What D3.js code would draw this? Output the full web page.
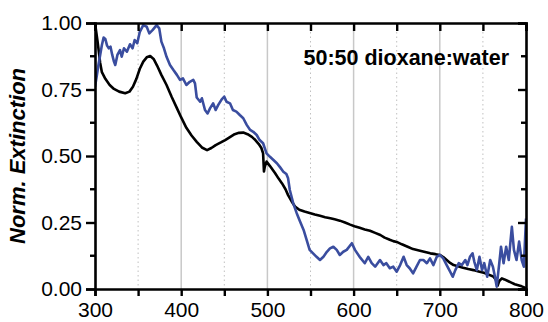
<!DOCTYPE html>
<html>
<head>
<meta charset="utf-8">
<script src="https://cdn.jsdelivr.net/npm/d3@7"></script>
<style>
  body { margin: 0; background: #fff; }
  text { font-family: "Liberation Sans", Arial, sans-serif; }
</style>
</head>
<body>
<div id="chart"></div>
<script>
// black spectrum: wavelength (nm) / normalised extinction
var blackX = [300,303,306,308,312,317,322,328,335,340,344,348,352,356,360,364,368,372,377,383,389,395,400,406,412,418,424,430,435,440,446,451,457,462,467,472,477,482,486,490,493,495,496,497,499,503,509,513,517,521,524,528,532,537,543,549,555,561,567,573,578,584,590,596,601,607,613,619,625,631,636,642,646,650,656,662,669,677,683,689,695,700,704,708,712,716,722,727,733,739,745,751,756,762,765,767,769,772,775,779,783,787,791,795,798,800];
var blackY = [1.00,0.93,0.85,0.815,0.79,0.767,0.752,0.742,0.736,0.742,0.76,0.79,0.828,0.855,0.871,0.876,0.865,0.84,0.805,0.767,0.722,0.68,0.645,0.606,0.577,0.553,0.532,0.522,0.53,0.541,0.551,0.56,0.572,0.582,0.587,0.588,0.582,0.572,0.56,0.545,0.53,0.51,0.442,0.46,0.479,0.462,0.435,0.415,0.397,0.375,0.353,0.33,0.31,0.298,0.291,0.286,0.28,0.275,0.27,0.266,0.262,0.257,0.25,0.242,0.236,0.23,0.224,0.219,0.211,0.203,0.193,0.185,0.18,0.177,0.168,0.16,0.15,0.144,0.139,0.134,0.131,0.128,0.12,0.109,0.098,0.09,0.085,0.08,0.075,0.071,0.066,0.061,0.055,0.047,0.035,0.012,0.03,0.04,0.036,0.03,0.024,0.018,0.014,0.01,0.006,0.002];

// blue spectrum
var blueX = [300,302,304,306,308,310,312,314,316,318,320,322,323.5,326,329,331,333.6,337,340.6,343.6,346,349,352,356,360,363,367,371.5,374.5,377,380,383,387,391,395,398.6,402,406,410,414,416,418,422,424,427.6,430.6,433.4,437,440,443,447,450,452.6,456.6,460,464,468,472,476,480,483.6,487.6,491,495,499,503,507,511,514.6,518.5,522,524,526,530,534,538,542,545.6,549,553,557,561,565,569,572.6,576.5,580.4,584,588,592,598,601.6,607,613,617,621,625,630.6,634.6,638,642,646,650,654,658,661.6,665,669,673,677,681,685,688.6,692.6,696.5,700,704,708,712,715,718,722,725.6,729.6,732,735,738,740,743,746,749,751.6,755,758.5,761.6,764,766,769,771,774,777,780,783.6,786,789,792,795,797.5,800];
var blueY = [0.76,0.80,0.842,0.88,0.917,0.945,0.94,0.915,0.905,0.911,0.88,0.855,0.842,0.88,0.898,0.873,0.905,0.892,0.92,0.905,0.936,0.924,0.967,0.992,0.986,0.961,0.974,0.992,0.98,0.93,0.905,0.873,0.842,0.823,0.805,0.786,0.792,0.767,0.779,0.786,0.773,0.72,0.704,0.717,0.673,0.66,0.679,0.698,0.673,0.692,0.713,0.723,0.704,0.698,0.673,0.667,0.654,0.642,0.617,0.598,0.591,0.579,0.56,0.548,0.51,0.497,0.485,0.473,0.458,0.441,0.432,0.416,0.372,0.322,0.285,0.253,0.222,0.184,0.147,0.134,0.121,0.109,0.121,0.14,0.153,0.159,0.147,0.128,0.14,0.147,0.172,0.147,0.121,0.097,0.121,0.097,0.084,0.109,0.09,0.097,0.078,0.084,0.065,0.09,0.121,0.09,0.078,0.059,0.084,0.109,0.109,0.097,0.115,0.09,0.121,0.128,0.115,0.09,0.065,0.046,0.071,0.097,0.09,0.109,0.09,0.121,0.134,0.103,0.071,0.121,0.071,0.097,0.046,0.109,0.084,0.046,0.009,0.097,0.159,0.097,0.159,0.109,0.234,0.147,0.109,0.178,0.109,0.084,0.265];

var xTicks = [300,400,500,600,700,800];
var xMinor = [350,450,550,650,750];
var yTicks = [0,0.25,0.5,0.75,1];
var yMinor = [0.125,0.375,0.625,0.875];
var label = "50:50 dioxane:water";
var yTitle = "Norm. Extinction";

var W = 548, H = 322;
var margin = {top: 23, right: 22, bottom: 33, left: 95};
var width = W - margin.left - margin.right,
    height = H - margin.top - margin.bottom;

var x = d3.scaleLinear().domain([300, 800]).range([0, width]);
var y = d3.scaleLinear().domain([0, 1]).range([height, 0]);

var svg = d3.select("#chart").append("svg")
    .attr("width", W).attr("height", H)
  .append("g")
    .attr("transform", "translate(" + margin.left + "," + margin.top + ")");

svg.append("defs").append("clipPath").attr("id", "clip")
  .append("rect").attr("width", width).attr("height", height);

// grid lines
svg.selectAll(".gmaj").data(xTicks.slice(1, -1)).enter().append("line")
    .attr("x1", x).attr("x2", x).attr("y1", 0).attr("y2", height)
    .attr("stroke", "#c8c8c8").attr("stroke-width", 1.5);
svg.selectAll(".gmin").data(xMinor).enter().append("line")
    .attr("x1", x).attr("x2", x).attr("y1", 0).attr("y2", height)
    .attr("stroke", "#c0c0c0").attr("stroke-width", 1).attr("stroke-dasharray", "1.5,3");

var line = d3.line()
    .x(function(d) { return x(d[0]); })
    .y(function(d) { return y(d[1]); });

var plot = svg.append("g").attr("clip-path", "url(#clip)");
plot.append("path")
    .datum(d3.zip(blackX, blackY))
    .attr("fill", "none").attr("stroke", "#000").attr("stroke-width", 2.6)
    .attr("stroke-linejoin", "round").attr("d", line);
plot.append("path")
    .datum(d3.zip(blueX, blueY))
    .attr("fill", "none").attr("stroke", "#3a4d9f").attr("stroke-width", 2.6)
    .attr("stroke-linejoin", "round").attr("d", line);

// axes
var fmt = d3.format(".2f");
var axBottom = svg.append("g").attr("transform", "translate(0," + height + ")")
    .call(d3.axisBottom(x).tickValues(d3.range(300, 801, 50)).tickSize(7).tickPadding(6)
        .tickFormat(function(d) { return d % 100 === 0 ? d : ""; }));
var axLeft = svg.append("g")
    .call(d3.axisLeft(y).tickValues(yTicks).tickSize(9).tickPadding(4).tickFormat(fmt));
axLeft.selectAll(".minor").data(yMinor).enter().append("line")
    .attr("x1", -5).attr("x2", 0).attr("y1", y).attr("y2", y);
var axTop = svg.append("g")
    .call(d3.axisTop(x).tickValues(d3.range(300, 801, 50)).tickSize(-8).tickFormat(""));
var axRight = svg.append("g").attr("transform", "translate(" + width + ",0)")
    .call(d3.axisRight(y).tickValues(yTicks).tickSize(-8).tickFormat(""));
axRight.selectAll(".minor").data(yMinor).enter().append("line")
    .attr("x1", -5).attr("x2", 0).attr("y1", y).attr("y2", y);

[axBottom, axLeft, axTop, axRight].forEach(function(g) {
  g.select(".domain").attr("stroke", "#000").attr("stroke-width", 2.6);
  g.selectAll("line").attr("stroke", "#000").attr("stroke-width", 2.4);
  g.selectAll("text").attr("fill", "#000").style("font-size", "21px");
});

svg.append("text")
    .attr("x", width - 17).attr("y", 42)
    .attr("text-anchor", "end")
    .style("font-size", "21.5px").style("font-weight", "bold")
    .text(label);

svg.append("text")
    .attr("transform", "translate(" + (-70) + "," + (height / 2) + ") rotate(-90)")
    .attr("text-anchor", "middle")
    .style("font-size", "22px").style("font-weight", "bold").style("font-style", "italic")
    .text(yTitle);
</script>
</body>
</html>
